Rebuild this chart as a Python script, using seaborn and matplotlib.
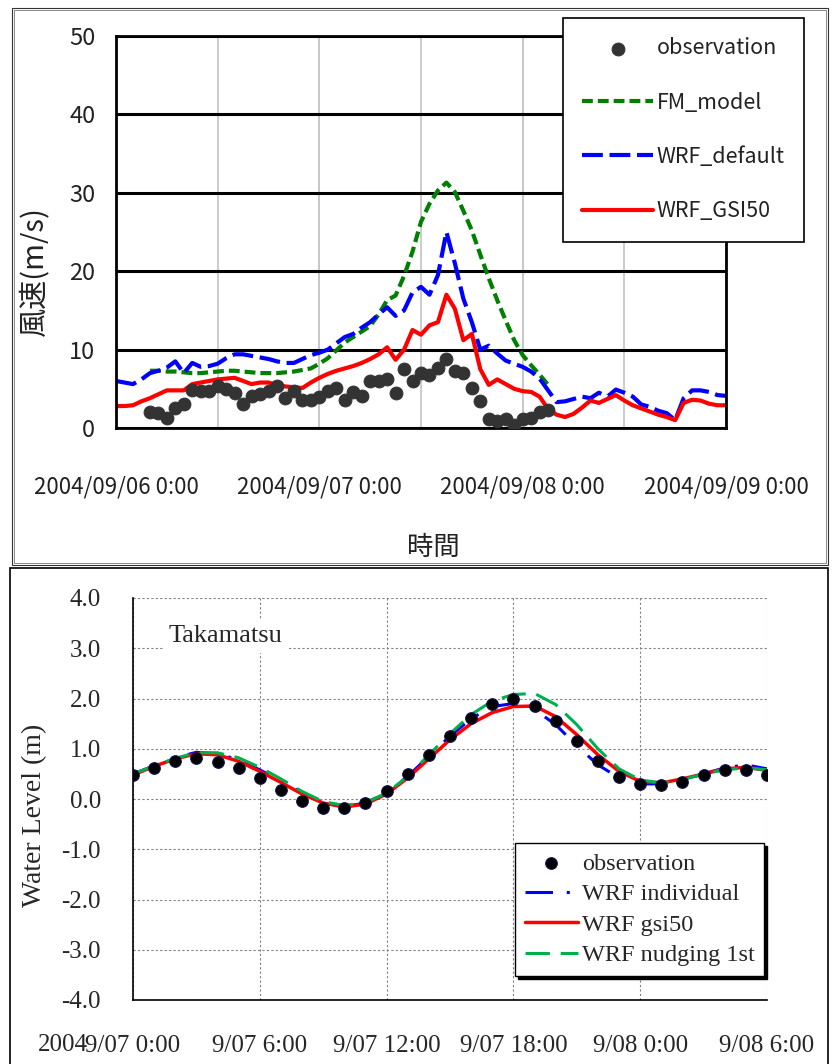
import matplotlib.pyplot as plt
import matplotlib.patches as mpatches
import seaborn as sns

# --- upper chart: wind speed, hours counted from 2004/09/06 0:00 ---
wind_hours = list(range(0, 73))
wind_wrf_default = [6.0, 5.8, 5.6, 6.2, 7.0, 7.3, 7.7, 8.5, 7.0, 8.3,
                    7.8, 7.9, 8.2, 8.9, 9.4, 9.4, 9.2, 9.0, 8.8, 8.5,
                    8.3, 8.3, 8.8, 9.3, 9.6, 10.0, 10.8, 11.6, 12.0, 12.8,
                    13.5, 14.5, 15.4, 14.3, 15.0, 17.3, 18.0, 17.0, 19.5, 25.0,
                    21.0, 16.5, 13.5, 10.0, 10.5, 9.5, 8.6, 8.2, 7.8, 7.2,
                    6.3, 4.8, 3.3, 3.4, 3.7, 4.0, 3.8, 4.5, 4.0, 4.9,
                    4.5, 4.0, 3.0, 2.7, 2.2, 1.9, 1.0, 3.8, 4.8, 4.8,
                    4.6, 4.2, 4.1]
wind_wrf_gsi50 = [2.8, 2.8, 2.9, 3.4, 3.8, 4.3, 4.8, 4.8, 4.8, 5.6,
                  5.8, 6.0, 6.2, 6.3, 6.4, 6.0, 5.6, 5.8, 5.8, 5.5,
                  5.3, 5.2, 5.1, 5.8, 6.4, 6.9, 7.3, 7.6, 7.9, 8.3,
                  8.8, 9.4, 10.3, 8.7, 10.0, 12.5, 11.9, 13.1, 13.5, 17.0,
                  15.2, 11.2, 12.0, 7.5, 5.5, 6.2, 5.6, 5.0, 4.7, 4.6,
                  4.0, 2.4, 1.7, 1.4, 1.8, 2.6, 3.5, 3.2, 3.7, 4.2,
                  3.5, 2.9, 2.5, 2.1, 1.7, 1.4, 1.0, 3.2, 3.6, 3.5,
                  3.1, 2.9, 2.9]
fm_hours = list(range(4, 52))
wind_fm_model = [7.3, 7.3, 7.2, 7.2, 7.1, 7.0, 7.0, 7.1, 7.2, 7.3,
                 7.3, 7.2, 7.1, 7.0, 7.0, 7.0, 7.1, 7.2, 7.4, 7.6,
                 8.2, 8.9, 9.9, 10.9, 11.6, 12.3, 13.0, 14.5, 16.3, 16.9,
                 19.4, 22.5, 26.3, 28.6, 30.3, 31.3, 30.1, 27.7, 25.2, 22.1,
                 19.1, 16.3, 13.7, 11.2, 9.3, 8.0, 6.8, 5.5]
obs_hours = list(range(4, 52))
wind_obs = [2.1, 1.9, 1.3, 2.6, 3.0, 4.9, 4.7, 4.7, 5.4, 5.0,
            4.5, 3.0, 4.1, 4.3, 4.7, 5.3, 3.8, 4.7, 3.6, 3.6,
            3.9, 4.7, 5.1, 3.6, 4.6, 4.1, 6.0, 6.0, 6.2, 4.5,
            7.5, 6.0, 7.0, 6.8, 7.7, 8.8, 7.3, 7.0, 5.1, 3.4,
            1.1, 0.9, 1.1, 0.4, 1.1, 1.3, 2.1, 2.3]
wind_ticks = [0, 24, 48, 72]
wind_tick_labels = ["2004/09/06 0:00", "2004/09/07 0:00",
                    "2004/09/08 0:00", "2004/09/09 0:00"]

# --- lower chart: water level at Takamatsu, hours from 9/07 0:00 ---
tide_hours = list(range(0, 31))
tide_obs = [0.48, 0.62, 0.76, 0.81, 0.74, 0.61, 0.42, 0.18, -0.03, -0.18,
            -0.17, -0.07, 0.15, 0.50, 0.88, 1.26, 1.62, 1.89, 2.00, 1.86,
            1.55, 1.15, 0.75, 0.43, 0.30, 0.27, 0.33, 0.48, 0.58, 0.58, 0.47]
tide_individual = [0.50, 0.66, 0.82, 0.93, 0.90, 0.78, 0.58, 0.36, 0.12, -0.08,
                   -0.15, -0.08, 0.12, 0.45, 0.85, 1.25, 1.60, 1.84, 1.90, 1.78,
                   1.48, 1.06, 0.68, 0.42, 0.30, 0.30, 0.38, 0.50, 0.62, 0.68, 0.60]
tide_gsi50 = [0.48, 0.65, 0.80, 0.90, 0.88, 0.75, 0.55, 0.33, 0.10, -0.08,
              -0.16, -0.10, 0.10, 0.42, 0.80, 1.18, 1.50, 1.72, 1.84, 1.85,
              1.64, 1.28, 0.88, 0.55, 0.35, 0.32, 0.40, 0.50, 0.60, 0.63, 0.57]
tide_nudging = [0.50, 0.66, 0.81, 0.92, 0.92, 0.82, 0.63, 0.40, 0.15, -0.05,
                -0.13, -0.07, 0.12, 0.45, 0.88, 1.30, 1.68, 1.95, 2.08, 2.10,
                1.88, 1.48, 1.00, 0.60, 0.38, 0.32, 0.38, 0.50, 0.58, 0.62, 0.58]
tide_ticks = [0, 6, 12, 18, 24, 30]
tide_tick_labels = ["9/07 0:00", "9/07 6:00", "9/07 12:00",
                    "9/07 18:00", "9/08 0:00", "9/08 6:00"]
level_ticks = [-4, -3, -2, -1, 0, 1, 2, 3, 4]

sns.set_style("white")
plt.rcParams['font.family'] = ['Noto Sans CJK JP', 'DejaVu Sans']

W, H = 835, 1064
fig = plt.figure(figsize=(W / 100, H / 100), dpi=100)

# panel frames
fig.add_artist(mpatches.Rectangle((12 / W, 1 - 565 / H), 816 / W, 557 / H, fill=False,
                                  lw=0.8, ec='#333333', transform=fig.transFigure))
fig.add_artist(mpatches.Rectangle((14 / W, 1 - 563 / H), 812 / W, 553 / H, fill=False,
                                  lw=0.6, ec='#777777', transform=fig.transFigure))
fig.add_artist(mpatches.Rectangle((10 / W, -0.01), 818 / W, (H - 568) / H + 0.01, fill=False,
                                  lw=1.2, ec='black', transform=fig.transFigure))

# ---------------- upper chart ----------------
ax1 = fig.add_axes([116 / W, 1 - 428 / H, 610 / W, 392 / H])
sns.lineplot(x=fm_hours, y=wind_fm_model, ax=ax1, color='#008000', lw=3,
             linestyle=(0, (2.6, 1.2)), label='FM_model', errorbar=None)
sns.lineplot(x=wind_hours, y=wind_wrf_default, ax=ax1, color='#0000ff', lw=3,
             linestyle=(0, (5, 1.6)), label='WRF_default', errorbar=None)
sns.lineplot(x=wind_hours, y=wind_wrf_gsi50, ax=ax1, color='#ff0000', lw=3,
             label='WRF_GSI50', errorbar=None)
sns.scatterplot(x=obs_hours, y=wind_obs, ax=ax1, color='#333333', s=85,
                edgecolor='#333333', label='observation', zorder=5)

ax1.set_xlim(0, 72)
ax1.set_ylim(0, 50)
ax1.set_yticks(range(0, 51, 10))
ax1.set_xticks(wind_ticks)
ax1.set_xticklabels(wind_tick_labels)
ax1.set_xticks(range(0, 73, 12), minor=True)
ax1.xaxis.remove_overlapping_locs = False
ax1.set_axisbelow(True)
ax1.grid(axis='x', which='both', color='#c8c8c8', lw=1.3)
ax1.grid(axis='y', which='major', color='black', lw=2.2)
for sp in ax1.spines.values():
    sp.set_color('black')
    sp.set_linewidth(2)
ax1.tick_params(axis='y', length=0, pad=15, labelsize=17, colors='#222222')
ax1.tick_params(axis='x', which='major', direction='in', length=5, width=1.5,
                pad=34, labelsize=16, labelcolor='#222222')
ax1.tick_params(axis='x', which='minor', length=0)
ax1.set_xlabel('時間', fontsize=19, color='#222222')
ax1.set_ylabel('風速(m/s)', fontsize=21, color='#222222')
ax1.xaxis.set_label_coords(0.521, -0.27)
ax1.yaxis.set_label_coords(-0.11, 0.40)

h, l = ax1.get_legend_handles_labels()
order = ['observation', 'FM_model', 'WRF_default', 'WRF_GSI50']
hd = dict(zip(l, h))
leg1 = ax1.legend([hd[k] for k in order], order, loc='upper left',
                  bbox_to_anchor=(563 / W, 1 - 18 / H), bbox_transform=fig.transFigure,
                  borderaxespad=0, fancybox=False, framealpha=1, edgecolor='black',
                  fontsize=15.5, handlelength=3.3, handletextpad=0.15,
                  labelspacing=1.5, borderpad=0.9)
leg1.get_frame().set_linewidth(1.2)
for t in leg1.get_texts():
    t.set_color('#222222')

# ---------------- lower chart ----------------
serif = 'Liberation Serif'
ax2 = fig.add_axes([133 / W, 1 - 1000 / H, 634 / W, 402 / H])
sns.lineplot(x=tide_hours, y=tide_individual, ax=ax2, color='#0000ff', lw=2.2,
             linestyle=(0, (9, 4.5, 1, 4.5)), label='WRF individual', errorbar=None)
sns.lineplot(x=tide_hours, y=tide_gsi50, ax=ax2, color='#ff0000', lw=2.5,
             label='WRF gsi50', errorbar=None)
sns.lineplot(x=tide_hours, y=tide_nudging, ax=ax2, color='#00b050', lw=2.2,
             linestyle=(0, (8, 3.5)), label='WRF nudging 1st', errorbar=None)
sns.scatterplot(x=tide_hours, y=tide_obs, ax=ax2, color='black', s=70,
                edgecolor='#101050', linewidth=0.8, label='observation', zorder=5)

ax2.set_xlim(0, 30)
ax2.set_ylim(-4, 4)
ax2.set_xticks(tide_ticks)
ax2.set_xticklabels(tide_tick_labels, fontfamily=serif, fontsize=18)
ax2.set_yticks(level_ticks)
ax2.set_yticklabels([f"{v:.1f}" for v in level_ticks], fontfamily=serif, fontsize=18)
ax2.set_axisbelow(True)
ax2.grid(True, color='#808080', linestyle=(0, (2, 2)), lw=0.8)
ax2.spines['top'].set_visible(False)
ax2.spines['right'].set_visible(False)
for k in ['left', 'bottom']:
    ax2.spines[k].set_color('black')
    ax2.spines[k].set_linewidth(1.2)
ax2.tick_params(axis='x', direction='out', length=7, width=1, color='black', pad=18)
ax2.tick_params(axis='y', direction='out', length=7, width=1, color='black', pad=16)
ax2.set_ylabel('Water Level (m)', fontfamily=serif, fontsize=20)
ax2.yaxis.set_label_coords(-0.136, 0.46)
ax2.text(-0.11, -0.112, '2004', transform=ax2.transAxes, fontfamily=serif,
         fontsize=18, ha='center', va='center')
ax2.text(1.66, 3.24, 'Takamatsu', fontfamily=serif, fontsize=19, ha='left', va='center',
         bbox=dict(facecolor='white', edgecolor='none', pad=4), zorder=3)

h, l = ax2.get_legend_handles_labels()
order = ['observation', 'WRF individual', 'WRF gsi50', 'WRF nudging 1st']
hd = dict(zip(l, h))
leg2 = ax2.legend([hd[k] for k in order], order, loc='upper left',
                  bbox_to_anchor=(0.6025, 0.3905), borderaxespad=0, fancybox=False,
                  framealpha=1, edgecolor='black', shadow={'color': 'black', 'alpha': 1},
                  prop={'family': serif, 'size': 17.5}, handlelength=2.2,
                  handletextpad=0.15, labelspacing=0.35, borderpad=0.4)
leg2.get_frame().set_linewidth(1.0)

fig.savefig('out.png', dpi=100)
